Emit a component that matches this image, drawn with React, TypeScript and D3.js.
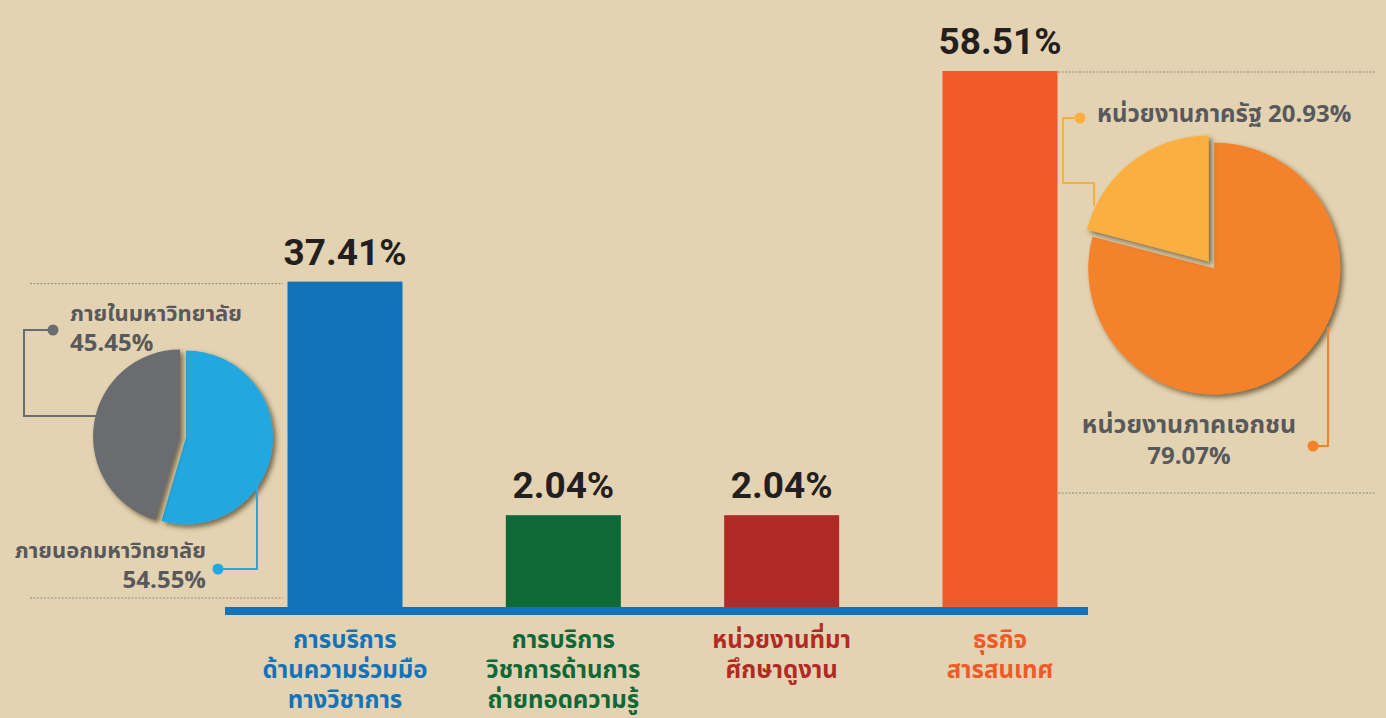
import React, { useEffect, useRef } from 'react';
import * as d3 from 'd3';

// bar categories (split into the lines shown under the axis)
const categoryLines = [
  ['การบริการ', 'ด้านความร่วมมือ', 'ทางวิชาการ'],
  ['การบริการ', 'วิชาการด้านการ', 'ถ่ายทอดความรู้'],
  ['หน่วยงานที่มา', 'ศึกษาดูงาน'],
  ['ธุรกิจ', 'สารสนเทศ'],
];
const barValues = [37.41, 2.04, 2.04, 58.51];
const barColors = ['#1273BA', '#0E6837', '#B22A26', '#F05A28'];

// left pie: inside / outside the university
const campusLabels = ['ภายนอกมหาวิทยาลัย', 'ภายในมหาวิทยาลัย'];
const campusValues = [54.55, 45.45];
const campusColors = ['#23A8E0', '#6B6C70'];

// right pie: private / public sector
const sectorLabels = ['หน่วยงานภาคเอกชน', 'หน่วยงานภาครัฐ'];
const sectorValues = [79.07, 20.93];
const sectorColors = ['#F4822A', '#FBAF3F'];

const W = 1386, H = 718;
const BG = '#E4D3B2';
const TEXT_GREY = '#58595B';
const FONT = "'Noto Sans Thai', 'Noto Sans', 'DejaVu Sans', sans-serif";
const NUM_FONT = "Roboto, 'DejaVu Sans', sans-serif";

const pct = (v: number) => `${v.toFixed(2)}%`;

function drawPie(g: any, values: number[], colors: string[], cx: number, cy: number, r: number, explode: number) {
  const pie = d3.pie<number>().sort(null).value((d) => d);
  const arc = d3.arc<d3.PieArcDatum<number>>().innerRadius(0).outerRadius(r);
  g.selectAll(null)
    .data(pie(values))
    .join('path')
    .attr('transform', (d: any) => {
      const mid = (d.startAngle + d.endAngle) / 2;
      return `translate(${cx + Math.sin(mid) * explode},${cy - Math.cos(mid) * explode})`;
    })
    .attr('d', arc as any)
    .attr('fill', (_: any, i: number) => colors[i])
    .attr('filter', 'url(#shadow)');
}

function drawChart(el: SVGSVGElement) {
  const svg = d3.select(el);
  svg.selectAll('*').remove();

  const defs = svg.append('defs');
  defs.append('filter')
    .attr('id', 'shadow')
    .attr('x', '-20%').attr('y', '-20%').attr('width', '140%').attr('height', '140%')
    .append('feDropShadow')
    .attr('dx', 3).attr('dy', 3).attr('stdDeviation', 2.5)
    .attr('flood-color', '#3d2f18').attr('flood-opacity', 0.65);

  svg.append('rect').attr('width', W).attr('height', H).attr('fill', BG);

  const baseline = 607;
  const keys = categoryLines.map((l) => l.join(''));
  const x = d3.scalePoint<string>().domain(keys).range([345, 1000]);
  const barW = 115;
  const y = d3.scalePow().exponent(1.42)
    .domain([0, d3.max(barValues) as number])
    .range([baseline - 88, 71]);

  // dotted guide lines
  const dots = svg.append('g')
    .attr('stroke', '#8a8a86').attr('stroke-width', 1).attr('stroke-dasharray', '2,1.5');
  const leftTop = y(barValues[0]) + 2;
  const rightTop = y(barValues[3]) + 1;
  [[30, 283, leftTop], [30, 283, 598], [1058, 1375, rightTop], [1058, 1375, 493]].forEach(([x1, x2, yy]) => {
    dots.append('line').attr('x1', x1).attr('x2', x2).attr('y1', yy).attr('y2', yy);
  });

  // bars
  svg.append('g')
    .selectAll('rect')
    .data(barValues)
    .join('rect')
    .attr('x', (_, i) => (x(keys[i]) as number) - barW / 2)
    .attr('y', (d) => y(d))
    .attr('width', barW)
    .attr('height', (d) => baseline - y(d))
    .attr('fill', (_, i) => barColors[i]);

  // value labels
  svg.append('g')
    .selectAll('text')
    .data(barValues)
    .join('text')
    .attr('x', (_, i) => x(keys[i]) as number)
    .attr('y', (d) => y(d) - 17)
    .attr('text-anchor', 'middle')
    .attr('font-family', NUM_FONT)
    .attr('font-weight', 700)
    .attr('font-size', 37)
    .attr('fill', '#231F20')
    .text((d) => pct(d));

  // axis line
  svg.append('rect')
    .attr('x', 225).attr('y', baseline)
    .attr('width', 863).attr('height', 8)
    .attr('fill', '#1273BA');

  // category labels
  const cat = svg.append('g')
    .attr('font-family', FONT)
    .attr('font-size', 24)
    .attr('font-weight', 700)
    .attr('text-anchor', 'middle');
  categoryLines.forEach((lines, i) => {
    const t = cat.append('text')
      .attr('x', x(keys[i]) as number)
      .attr('y', 648)
      .attr('fill', barColors[i]);
    lines.forEach((line, j) => {
      t.append('tspan').attr('x', x(keys[i]) as number).attr('dy', j === 0 ? 0 : 30).text(line);
    });
  });

  // left pie
  const lp = svg.append('g');
  drawPie(lp, campusValues, campusColors, 183, 437, 87, 3);

  // right pie
  const rp = svg.append('g');
  drawPie(rp, sectorValues, sectorColors, 1211.5, 265, 126, 4.5);

  // leader lines
  const leader = (pts: [number, number][], color: string) => {
    svg.append('path')
      .attr('d', d3.line()(pts))
      .attr('fill', 'none')
      .attr('stroke', color)
      .attr('stroke-width', 2);
    svg.append('circle')
      .attr('cx', pts[0][0]).attr('cy', pts[0][1]).attr('r', 5.5)
      .attr('fill', color);
  };
  leader([[53, 330], [24, 330], [24, 416], [97, 416]], campusColors[1]);
  leader([[218, 569], [257, 569], [257, 478]], campusColors[0]);
  leader([[1080, 118], [1063, 118], [1063, 183], [1094, 183], [1094, 206]], sectorColors[1]);
  leader([[1313, 446], [1328, 446], [1328, 327]], sectorColors[0]);

  // pie labels
  const lab = svg.append('g')
    .attr('font-family', FONT)
    .attr('font-weight', 700)
    .attr('fill', TEXT_GREY);
  const small = 22, big = 24;
  lab.append('text').attr('x', 70).attr('y', 321).attr('font-size', small).text(campusLabels[1]);
  lab.append('text').attr('x', 70).attr('y', 351).attr('font-size', big).text(pct(campusValues[1]));
  lab.append('text').attr('x', 206).attr('y', 558).attr('font-size', small).attr('text-anchor', 'end').text(campusLabels[0]);
  lab.append('text').attr('x', 206).attr('y', 588).attr('font-size', big).attr('text-anchor', 'end').text(pct(campusValues[0]));
  const pub = lab.append('text').attr('x', 1097).attr('y', 122).attr('font-size', big);
  pub.append('tspan').text(`${sectorLabels[1]} `);
  pub.append('tspan').text(pct(sectorValues[1]));
  lab.append('text').attr('x', 1189).attr('y', 433).attr('font-size', big + 1).attr('text-anchor', 'middle').text(sectorLabels[0]);
  lab.append('text').attr('x', 1189).attr('y', 464).attr('font-size', big).attr('text-anchor', 'middle').text(pct(sectorValues[0]));
}

export default function App() {
  const ref = useRef<SVGSVGElement>(null);
  useEffect(() => {
    if (ref.current) drawChart(ref.current);
  }, []);
  return (
    <svg
      ref={ref}
      width={W}
      height={H}
      style={{ position: 'absolute', left: 0, top: 0, display: 'block' }}
    />
  );
}
